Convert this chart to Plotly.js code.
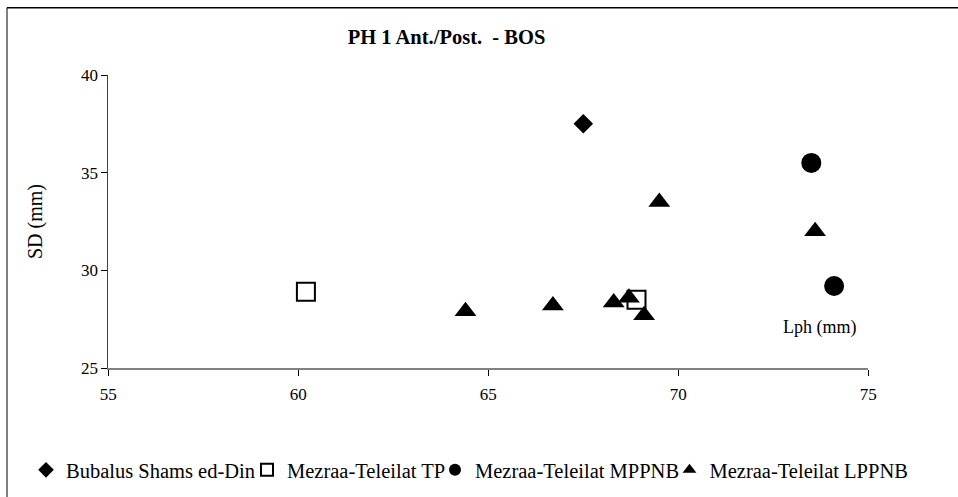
<!DOCTYPE html>
<html>
<head>
<meta charset="utf-8">
<script src="https://cdn.plot.ly/plotly-3.0.1.min.js"></script>
<style>html,body{margin:0;padding:0;background:#fff;}#chart{width:958px;height:497px;}</style>
</head>
<body>
<div id="chart"></div>
<script>
// Data
var bubalusX = [67.5];
var bubalusY = [37.5];
var tpX = [60.2, 68.9];
var tpY = [28.9, 28.5];
var mppnbX = [73.5, 74.1];
var mppnbY = [35.5, 29.2];
var lppnbX = [69.5, 73.6, 64.4, 66.7, 68.3, 68.7, 69.1];
var lppnbY = [33.5, 32.0, 27.9, 28.2, 28.35, 28.6, 27.7];
var seriesNames = ['Bubalus Shams ed-Din', 'Mezraa-Teleilat TP', 'Mezraa-Teleilat MPPNB', 'Mezraa-Teleilat LPPNB'];
var xTicks = [55, 60, 65, 70, 75];
var yTicks = [25, 30, 35, 40];

var font = "'Liberation Serif', 'Times New Roman', Times, serif";
var W = 958;

var traces = [
  {x: bubalusX, y: bubalusY, name: seriesNames[0], mode: 'markers', type: 'scatter', legendwidth: 176,
   marker: {symbol: 'diamond', size: 15, color: '#000'}},
  {x: tpX, y: tpY, name: seriesNames[1], mode: 'markers', type: 'scatter', legendwidth: 143,
   marker: {symbol: 'square', size: 18, color: '#fff', line: {color: '#000', width: 2}}},
  {x: mppnbX, y: mppnbY, name: seriesNames[2], mode: 'markers', type: 'scatter', legendwidth: 189.5,
   marker: {symbol: 'circle', size: 20, color: '#000'}},
  {x: lppnbX, y: lppnbY, name: seriesNames[3], mode: 'markers', type: 'scatter',
   marker: {symbol: 'triangle-up', size: 19, color: '#000'}}
];

var layout = {
  width: 958, height: 497,
  paper_bgcolor: '#fff', plot_bgcolor: 'rgba(0,0,0,0)',
  margin: {l: 0, r: 0, t: 75.3, b: 129, pad: 0},
  font: {family: font, size: 17, color: '#000'},
  title: {text: '<b>PH 1 Ant./Post.  - BOS</b>', font: {family: font, size: 20.5, color: '#000'},
          x: 446.5 / W, xanchor: 'center', xref: 'container', y: 1 - 37 / 497, yanchor: 'middle', yref: 'container'},
  xaxis: {domain: [108.3 / W, 868.3 / W], range: [55, 75], tickvals: xTicks, ticktext: xTicks.map(String),
          showgrid: false, zeroline: false, automargin: false,
          showline: true, linecolor: '#808080', linewidth: 1.5, ticks: 'outside', ticklen: 6, tickcolor: '#000', tickwidth: 1,
          ticklabelstandoff: 4, tickfont: {family: font, size: 17}, fixedrange: true},
  yaxis: {range: [25, 40], tickvals: yTicks, ticktext: yTicks.map(String), showgrid: false, zeroline: false, automargin: false,
          showline: true, linecolor: '#404040', linewidth: 1, ticks: 'outside', ticklen: 6, tickcolor: '#000', tickwidth: 1,
          tickfont: {family: font, size: 17}, fixedrange: true,
          title: {text: 'SD (mm)', font: {family: font, size: 20}, standoff: 32}},
  showlegend: true,
  legend: {orientation: 'h', xref: 'paper', yref: 'container', x: 26 / W, xanchor: 'left',
           y: 1 - 470 / 497, yanchor: 'middle', font: {family: font, size: 20.5}, itemwidth: 30, tracegroupgap: 0,
           itemsizing: 'constant', bgcolor: 'rgba(0,0,0,0)', borderwidth: 0},
  annotations: [
    {text: 'Lph (mm)', xref: 'paper', yref: 'paper', x: 819.5 / W, y: (368 - 328) / 292.7,
     xanchor: 'center', yanchor: 'middle', showarrow: false, font: {family: font, size: 18}}
  ],
  shapes: [
    {type: 'line', xref: 'paper', yref: 'paper', x0: 7 / W, x1: 7 / W,
     y0: (368 - 8) / 292.7, y1: (368 - 500) / 292.7, line: {color: '#000', width: 1}},
    {type: 'line', xref: 'paper', yref: 'paper', x0: 7 / W, x1: 962 / W,
     y0: (368 - 8) / 292.7, y1: (368 - 8) / 292.7, line: {color: '#000', width: 1.5}}
  ]
};

Plotly.newPlot('chart', traces, layout, {staticPlot: true, displayModeBar: false});
</script>
</body>
</html>
